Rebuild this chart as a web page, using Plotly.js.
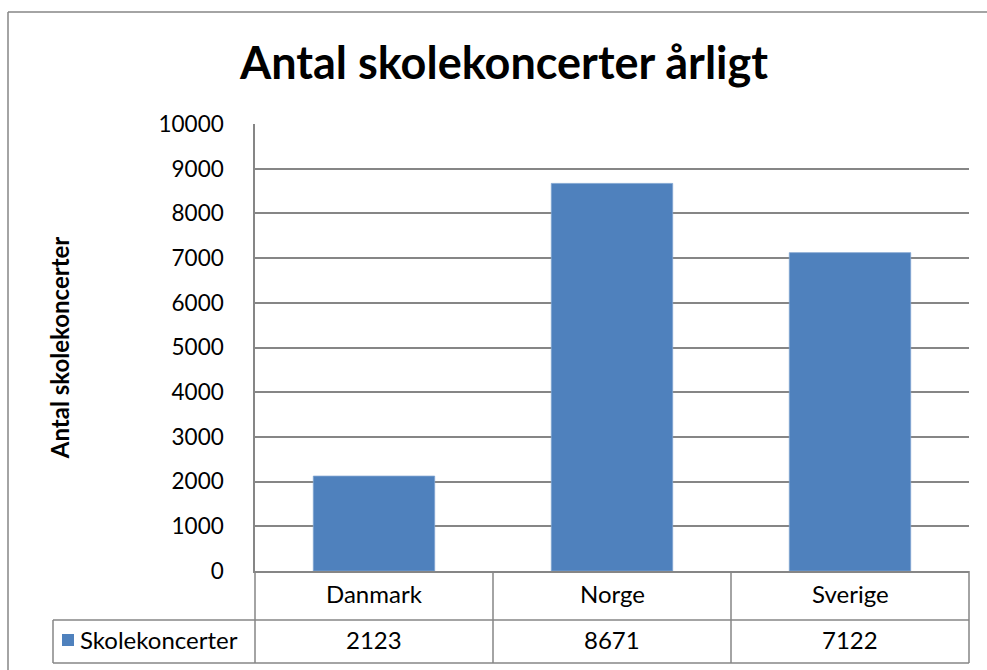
<!DOCTYPE html>
<html>
<head>
<meta charset="utf-8">
<script src="https://cdn.plot.ly/plotly-3.0.1.min.js"></script>
<style>
html,body{margin:0;padding:0;background:#fff;}
#chart{width:987px;height:670px;}
</style>
</head>
<body>
<div id="chart"></div>
<script>
var categories = ["Danmark", "Norge", "Sverige"];
var values = [2123, 8671, 7122];
var seriesName = "Skolekoncerter";
var chartTitle = "Antal skolekoncerter årligt";
var yTitle = "Antal skolekoncerter";
var yTickVals = [0, 1000, 2000, 3000, 4000, 5000, 6000, 7000, 8000, 9000, 10000];

var W = 987, H = 670;
var L = 255, R = 969, T = 124, B = 571;
var pw = R - L, ph = B - T;
function px(x){ return (x - L) / pw; }
function py(y){ return (B - y) / ph; }

var lineCol = "#868686";
var barCol = "#4F81BD";
var font = "Lato, 'Open Sans', sans-serif";

var rowMid1 = py(593), rowLine = py(620), rowBottom = py(663), rowMid2 = py(639);
var legLeft = px(53);

var shapes = [];
function seg(x0,y0,x1,y1){
  shapes.push({type:"line", xref:"paper", yref:"paper", x0:x0, y0:y0, x1:x1, y1:y1,
    line:{color:lineCol, width:1.5}});
}
// table vertical lines at category boundaries
for (var i = 0; i <= categories.length; i++) {
  seg(i / categories.length, 0, i / categories.length, rowBottom);
}
seg(legLeft, rowLine, 1, rowLine);
seg(legLeft, rowBottom, 1, rowBottom);
seg(legLeft, rowLine, legLeft, rowBottom);
// outer chart border
seg(px(8), py(12), px(8), py(675));
seg(px(8), py(12), px(995), py(12));
// legend key square in the data table
shapes.push({type:"rect", xref:"paper", yref:"paper", x0:px(62), x1:px(74), y0:py(634), y1:py(646),
  fillcolor:barCol, line:{width:0}});

var annotations = [];
categories.forEach(function(c, i){
  annotations.push({xref:"x", yref:"paper", x:c, y:rowMid1, text:c, showarrow:false,
    xanchor:"center", yanchor:"middle", font:{family:font, size:24, color:"#000"}});
  annotations.push({xref:"x", yref:"paper", x:c, y:rowMid2, text:String(values[i]), showarrow:false,
    xanchor:"center", yanchor:"middle", font:{family:font, size:24, color:"#000"}});
});
annotations.push({xref:"paper", yref:"paper", x:px(78), y:rowMid2, text:seriesName, showarrow:false,
  xanchor:"left", yanchor:"middle", font:{family:font, size:24, color:"#000"}});

var data = [{
  type:"bar", x:categories, y:values, name:seriesName,
  marker:{color:barCol, line:{color:"#7FA3D0", width:0.8}},
  hoverinfo:"x+y"
}];

var layout = {
  width:W, height:H,
  margin:{l:L, r:W-R, t:T, b:H-B},
  paper_bgcolor:"#fff", plot_bgcolor:"#fff",
  title:{text:"<b>"+chartTitle+"</b>", xref:"container", yref:"container",
    x:504/W, y:1-63/H, xanchor:"center", yanchor:"middle",
    font:{family:font, size:45, color:"#000"}},
  bargap:0.49,
  showlegend:false,
  xaxis:{type:"category", range:[-0.5, 2.5], showticklabels:false, showgrid:false,
    showline:true, linecolor:lineCol, linewidth:1.5, ticks:"", fixedrange:true, zeroline:false},
  yaxis:{range:[0, 10000], tickvals:yTickVals, ticktext:yTickVals.map(String),
    showgrid:true, gridcolor:lineCol, gridwidth:1.5, zeroline:false,
    showline:true, linecolor:lineCol, linewidth:1.5, ticks:"", ticklabelstandoff:25,
    tickfont:{family:font, size:22.5, color:"#000"}, fixedrange:true,
    title:{text:"<b>"+yTitle+"</b>", standoff:82, font:{family:font, size:24, color:"#000"}}},
  shapes:shapes,
  annotations:annotations
};

Plotly.newPlot("chart", data, layout, {displayModeBar:false});
</script>
</body>
</html>
